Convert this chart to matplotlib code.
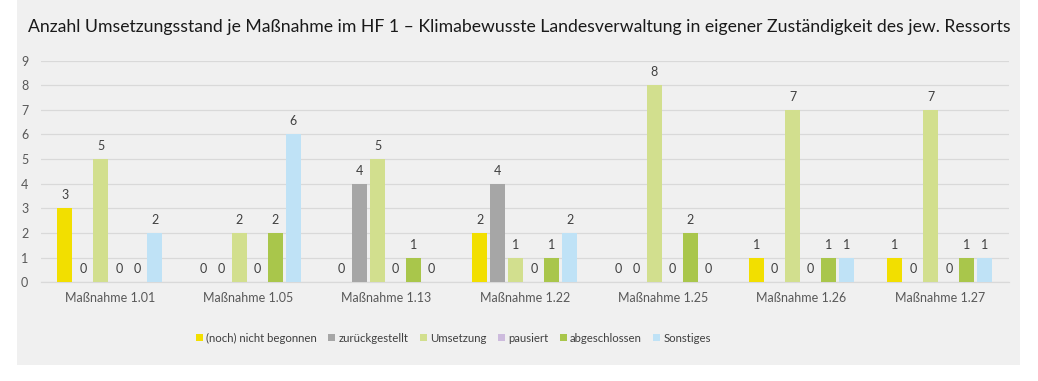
import matplotlib
matplotlib.use("Agg")
import matplotlib.pyplot as plt
from matplotlib.patches import Rectangle, Patch
import numpy as np

plt.rcParams['font.family'] = ['Lato', 'DejaVu Sans']

categories = ["Maßnahme 1.01", "Maßnahme 1.05", "Maßnahme 1.13", "Maßnahme 1.22",
              "Maßnahme 1.25", "Maßnahme 1.26", "Maßnahme 1.27"]
series_names = ["(noch) nicht begonnen", "zurückgestellt", "Umsetzung",
                "pausiert", "abgeschlossen", "Sonstiges"]
nicht_begonnen = [3, 0, 0, 2, 0, 1, 1]
zurueckgestellt = [0, 0, 4, 4, 0, 0, 0]
umsetzung = [5, 2, 5, 1, 8, 7, 7]
pausiert = [0, 0, 0, 0, 0, 0, 0]
abgeschlossen = [0, 2, 1, 1, 2, 1, 1]
sonstiges = [2, 6, 0, 2, 0, 1, 1]
series_values = [nicht_begonnen, zurueckgestellt, umsetzung, pausiert, abgeschlossen, sonstiges]
colors = ["#F2DF00", "#A6A6A6", "#D2DF8E", "#CDBBDD", "#A9C64B", "#BFE2F6"]
title = "Anzahl Umsetzungsstand je Maßnahme im HF 1 – Klimabewusste Landesverwaltung in eigener Zuständigkeit des jew. Ressorts"

W, H = 1038, 381
fig = plt.figure(figsize=(W / 100, H / 100), dpi=100)
fig.patch.set_facecolor("white")
fig.add_artist(Rectangle((17 / W, 1 - 365 / H), (1020 - 17) / W, 365 / H,
                         transform=fig.transFigure, facecolor="#F0F0F0",
                         edgecolor="none", zorder=0))

ax = fig.add_axes([40.8 / W, 1 - 282.3 / H, (1009 - 40.8) / W, (282.3 - 60.5) / H])
ax.set_facecolor("none")
x = np.arange(len(categories))
slot = 18 / 138.3
bw = 15 / 138.3
text_col = "#404040"
for i, (name, vals, c) in enumerate(zip(series_names, series_values, colors)):
    pos = x + (i - 2.5) * slot
    ax.bar(pos, vals, width=bw, color=c, label=name, zorder=3)
    for px, v in zip(pos, vals):
        ax.annotate(str(v), (px, v), xytext=(0, 5), textcoords="offset points",
                    ha="center", va="bottom", fontsize=9, color=text_col, zorder=4)

ax.set_xlim(-0.5, len(categories) - 0.5)
ax.set_ylim(0, 9)
ax.set_yticks(range(0, 10))
ax.yaxis.grid(True, color="#D9D9D9", linewidth=0.9, zorder=0)
ax.set_xticks(x)
ax.set_xticklabels(categories)
ax.tick_params(axis="both", length=0, labelsize=9, labelcolor="#595959")
ax.tick_params(axis="y", pad=9)
ax.tick_params(axis="x", pad=7)
for s in ["top", "right", "left"]:
    ax.spines[s].set_visible(False)
ax.spines["bottom"].set_color("#D9D9D9")
ax.spines["bottom"].set_linewidth(0.9)

t = fig.text(519 / W, 1 - 27 / H, title, ha="center", va="center", fontsize=14, color="#1a1a1a")
fig.canvas.draw()
wpx = t.get_window_extent().width
t.set_fontsize(14 * 982 / wpx)

handles = [Patch(facecolor=c, edgecolor="none") for c in colors]
fig.legend(handles, series_names, loc="center", bbox_to_anchor=(453.5 / W, 1 - 338 / H),
           ncol=6, frameon=False, fontsize=8.2, handlelength=0.6, handleheight=0.6,
           handletextpad=0.3, columnspacing=1.0, labelcolor="#404040")

fig.savefig("out.png", dpi=100, facecolor="white")
